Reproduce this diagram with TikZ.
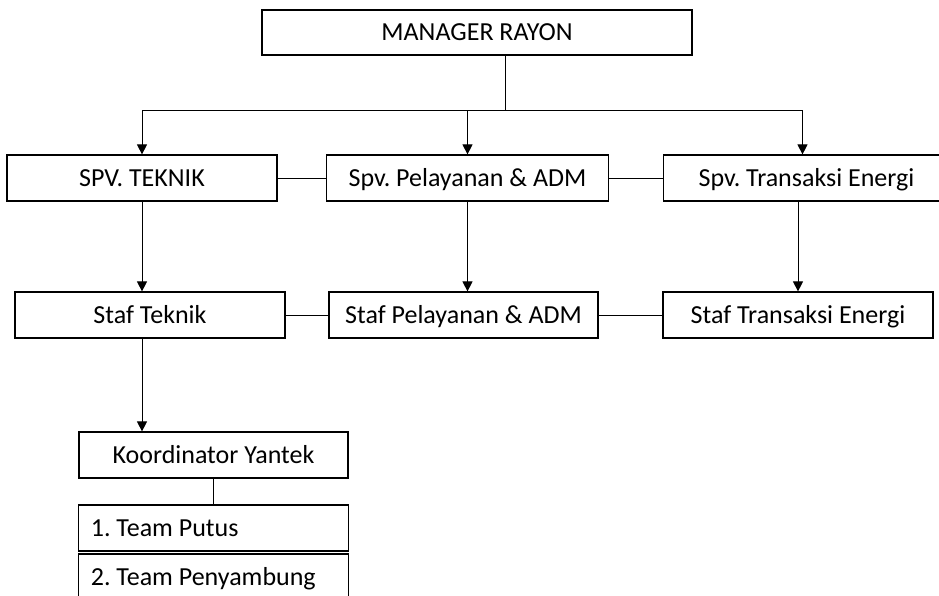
\documentclass[tikz,border=0pt]{standalone}
\usepackage{fontspec}
\setmainfont{Carlito}
\usetikzlibrary{arrows.meta}

\tikzset{
  kotak/.style={draw,line width=0.9pt,inner sep=0pt,text height=15pt,text depth=3pt,
    font=\fontsize{19.5}{22}\selectfont\frenchspacing},
  tim/.style={kotak,text width=184pt,inner xsep=9pt,align=flush left,minimum height=34.5pt},
  garis/.style={line width=0.7pt},
}

\begin{document}
\begin{tikzpicture}[x=0.75pt,y=-0.75pt,>={Triangle[length=7.5pt,width=7.5pt]}]
\useasboundingbox (0,0) rectangle (939,596);
\node[kotak,minimum width=322.5pt,minimum height=33.75pt] (mgr) at (477,32.5) {MANAGER RAYON};
\node[kotak,minimum width=202.5pt,minimum height=34.5pt] (spvtek) at (142,178) {SPV. TEKNIK};
\node[kotak,minimum width=212pt,minimum height=34.5pt] (spvyan) at (467.5,178) {Spv. Pelayanan \& ADM};
\node[kotak,minimum width=209pt,minimum height=34.5pt] (spvte) at (802.5,178) {\hspace*{6pt}Spv. Transaksi Energi};
\node[kotak,minimum width=202.5pt,minimum height=34.5pt] (staftek) at (150,315) {Staf Teknik};
\node[kotak,minimum width=201.75pt,minimum height=34.5pt] (stafyan) at (463.5,315) {Staf Pelayanan \& ADM};
\node[kotak,minimum width=202.5pt,minimum height=34.5pt] (stafte) at (798,315) {Staf Transaksi Energi};
\node[kotak,minimum width=201.75pt,minimum height=34.5pt] (koord) at (213.5,455) {Koordinator Yantek};
\node[tim] (tim1) at (213.5,528) {1. Team Putus};
\node[tim] (tim2) at (213.5,577) {2. Team Penyambung};
% garis dari manager
\coordinate (bus) at (505,110);
\draw[garis] (bus |- mgr.south) -- (bus);
\draw[garis] (spvtek.north |- bus) -- (spvte.north |- bus);
\draw[garis,->] (spvtek.north |- bus) -- (spvtek.north);
\draw[garis,->] (spvyan.north |- bus) -- (spvyan.north);
\draw[garis,->] (spvte.north |- bus) -- (spvte.north);
% spv ke staf
\draw[garis] (spvtek.east) -- (spvyan.west);
\draw[garis] (spvyan.east) -- (spvte.west);
\draw[garis,->] (spvtek.south) -- (spvtek.south |- staftek.north);
\draw[garis,->] (spvyan.south) -- (spvyan.south |- stafyan.north);
\draw[garis,->] (spvte.south -| stafte.north) -- (stafte.north);
\draw[garis] (staftek.east) -- (stafyan.west);
\draw[garis] (stafyan.east) -- (stafte.west);
% yantek
\draw[garis,->] (spvtek.south |- staftek.south) -- (spvtek.south |- koord.north);
\draw[garis] (koord.south) -- (tim1.north);
\end{tikzpicture}
\end{document}
